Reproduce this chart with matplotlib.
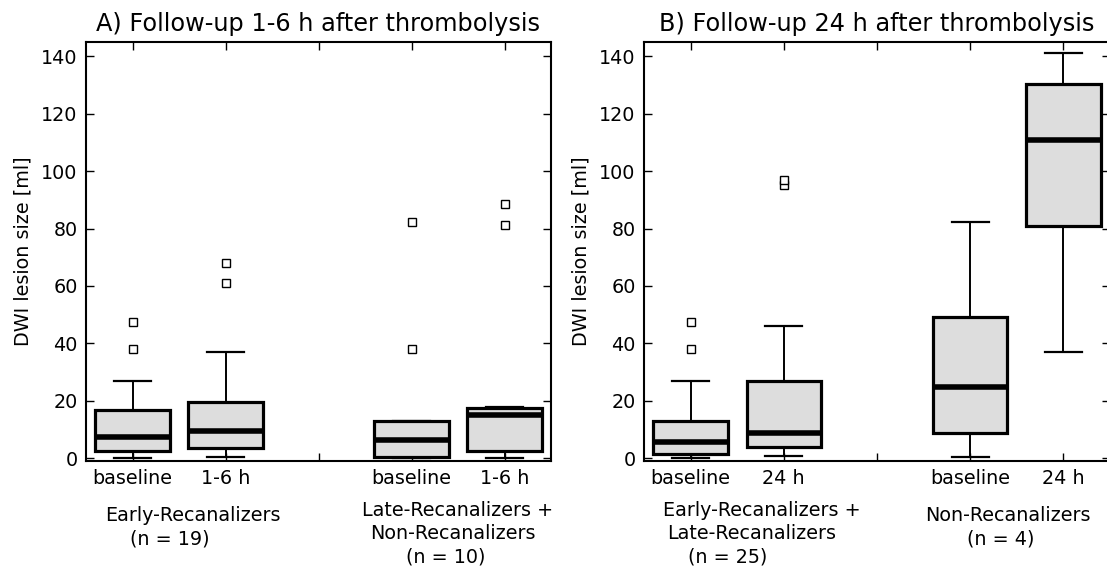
import matplotlib
matplotlib.use("Agg")
import matplotlib.pyplot as plt
from matplotlib.transforms import blended_transform_factory

positions = [1, 2, 4, 5]
tick_pos = [1, 2, 3, 4, 5]
ticks_a = ["baseline", "1-6 h", "", "baseline", "1-6 h"]
ticks_b = ["baseline", "24 h", "", "baseline", "24 h"]

# panel A: box stats
a_med = [7.2, 9.5, 6.3, 15.2]
a_q1 = [2.4, 3.5, 0.5, 2.6]
a_q3 = [16.8, 19.4, 12.9, 17.3]
a_lo = [0.2, 0.3, 0.0, 0.1]
a_hi = [26.9, 37.1, 12.9, 17.9]
a_out = [[38.2, 47.5], [61.1, 68.1], [38.2, 82.3], [81.4, 88.7]]

# panel B
b_med = [5.5, 8.8, 24.9, 111.0]
b_q1 = [1.4, 3.9, 8.8, 80.8]
b_q3 = [13.0, 27.0, 49.3, 130.5]
b_lo = [0.1, 0.9, 0.5, 37.1]
b_hi = [26.9, 46.2, 82.4, 141.3]
b_out = [[38.2, 47.5], [95.0, 96.8], [], []]

# group captions: (x centre in data units, y in axes fraction, text)
groups_a = [(1.65, -0.131, "Early-Recanalizers"), (1.40, -0.186, "(n = 19)"),
            (4.50, -0.119, "Late-Recanalizers +"), (4.44, -0.174, "Non-Recanalizers"),
            (4.37, -0.229, "(n = 10)")]
groups_b = [(1.76, -0.119, "Early-Recanalizers +"), (1.66, -0.174, "Late-Recanalizers"),
            (1.40, -0.229, "(n = 25)"), (4.40, -0.131, "Non-Recanalizers"),
            (4.33, -0.186, "(n = 4)")]

FS = 13.8


def panel(ax, med, q1, q3, lo, hi, out, ticklabels, groups, title):
    stats = [dict(med=m, q1=a, q3=b, whislo=l, whishi=h, fliers=f)
             for m, a, b, l, h, f in zip(med, q1, q3, lo, hi, out)]
    ax.bxp(stats, positions=positions, widths=0.8, patch_artist=True,
           boxprops=dict(facecolor="#dddddd", edgecolor="black", linewidth=2.3),
           medianprops=dict(color="black", linewidth=4),
           whiskerprops=dict(color="black", linewidth=1.4, linestyle="-"),
           capprops=dict(color="black", linewidth=1.6),
           flierprops=dict(marker="s", markerfacecolor="white", markeredgecolor="black",
                           markersize=5.5, markeredgewidth=1))
    ax.set_xlim(0.5, 5.5)
    ax.set_ylim(-1, 145)
    ax.set_xticks(tick_pos)
    ax.set_xticklabels(ticklabels)
    ax.set_yticks(range(0, 141, 20))
    ax.tick_params(direction="in", top=True, right=True, length=6, width=1,
                   labelsize=FS, pad=6)
    for s in ax.spines.values():
        s.set_linewidth(1.5)
    ax.set_ylabel("DWI lesion size [ml]", fontsize=FS, labelpad=6)
    ax.set_title(title, fontsize=17.3, pad=8)
    tr = blended_transform_factory(ax.transData, ax.transAxes)
    for x, y, t in groups:
        ax.text(x, y, t, transform=tr, ha="center", va="center", fontsize=FS)


fig = plt.figure(figsize=(11.07, 5.68), dpi=100)
ax1 = fig.add_axes([86 / 1107, 107 / 568, 465 / 1107, 419 / 568])
ax2 = fig.add_axes([644 / 1107, 107 / 568, 466 / 1107, 419 / 568])
panel(ax1, a_med, a_q1, a_q3, a_lo, a_hi, a_out, ticks_a, groups_a,
      "A) Follow-up 1-6 h after thrombolysis")
panel(ax2, b_med, b_q1, b_q3, b_lo, b_hi, b_out, ticks_b, groups_b,
      "B) Follow-up 24 h after thrombolysis")
fig.savefig("out.png", dpi=100)
